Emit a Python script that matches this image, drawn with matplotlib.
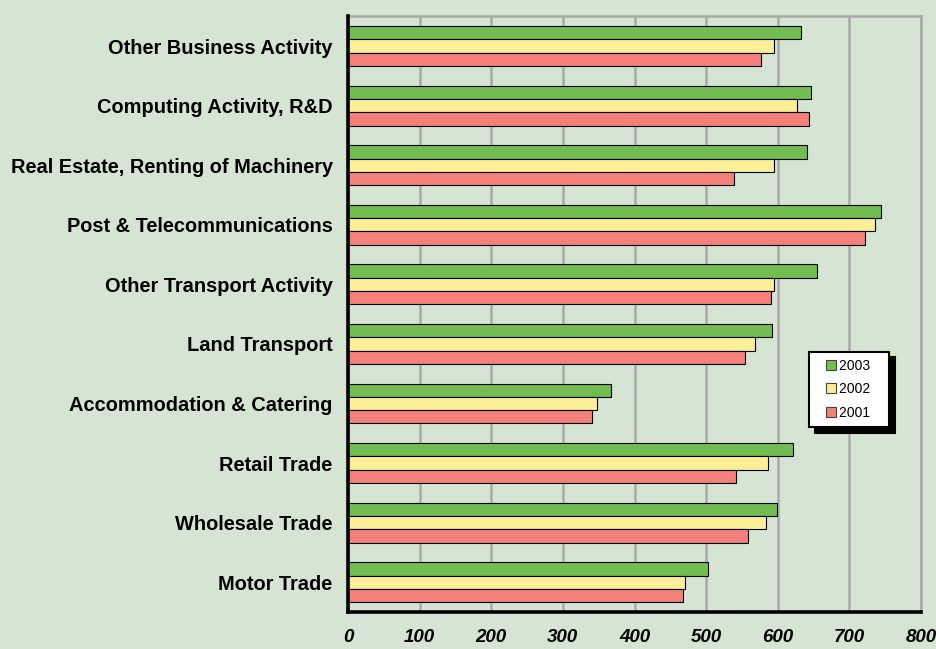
import numpy as np
import matplotlib
matplotlib.use("Agg")
import matplotlib.pyplot as plt
from matplotlib.lines import Line2D

categories = ["Other Business Activity", "Computing Activity, R&D",
              "Real Estate, Renting of Machinery", "Post & Telecommunications",
              "Other Transport Activity", "Land Transport",
              "Accommodation & Catering", "Retail Trade",
              "Wholesale Trade", "Motor Trade"]
years = ["2003", "2002", "2001"]
v2003 = [632, 646, 641, 744, 655, 592, 367, 621, 599, 502]
v2002 = [595, 627, 595, 736, 594, 568, 347, 586, 584, 470]
v2001 = [576, 643, 539, 722, 591, 554, 340, 542, 559, 468]
xticks = [0, 100, 200, 300, 400, 500, 600, 700, 800]

colors = ["#72bd52", "#fdef98", "#f4807a"]
bg = "#d6e5d3"

plt.rcParams['font.family'] = ['Liberation Sans', 'DejaVu Sans']

fig = plt.figure(figsize=(9.37, 6.49), dpi=100, facecolor=bg)
ax = fig.add_axes([0.3714, 0.057, 0.6116, 0.918], facecolor=bg)

y = np.arange(len(categories))
h = 0.223
for k, vals in enumerate([v2003, v2002, v2001]):
    ax.barh(y + (k - 1) * h, vals, height=h, color=colors[k],
            edgecolor="black", linewidth=0.8, zorder=2)

ax.set_xlim(0, 800)
ax.set_ylim(len(categories) - 0.5, -0.5)
ax.set_xticks(xticks)
ax.set_xticklabels([str(t) for t in xticks], fontsize=13.5,
                   fontweight="bold", fontstyle="italic")
ax.set_yticks(y)
ax.set_yticklabels(categories, fontsize=14.4, fontweight="bold")
ax.tick_params(axis="x", length=0, pad=12)
ax.tick_params(axis="y", length=0, pad=11)
ax.xaxis.grid(True, color="#a9a9a9", linewidth=1.8)
ax.set_axisbelow(True)

for s in ["left", "bottom"]:
    ax.spines[s].set_linewidth(2.6)
    ax.spines[s].set_color("black")
    ax.spines[s].set_zorder(5)
for s in ["top", "right"]:
    ax.spines[s].set_color("#a9a9a9")
    ax.spines[s].set_linewidth(1.8)

handles = [Line2D([], [], linestyle="", marker="s", markersize=6.5,
                  markerfacecolor=c, markeredgecolor="#444444",
                  markeredgewidth=0.8) for c in colors]
labels = [yr + "   " for yr in years]
leg = ax.legend(handles, labels, loc="upper left",
                bbox_to_anchor=(0.805, 0.437),
                fontsize=10, frameon=True, fancybox=False,
                shadow={"color": "black", "alpha": 1, "ox": 4, "oy": -4},
                handlelength=2.1, handletextpad=-0.43,
                labelspacing=0.7, borderpad=0.5, borderaxespad=0)
leg.get_frame().set_edgecolor("black")
leg.get_frame().set_linewidth(1.5)
leg.get_frame().set_facecolor("white")

fig.savefig("out.png", dpi=100, facecolor=bg)
